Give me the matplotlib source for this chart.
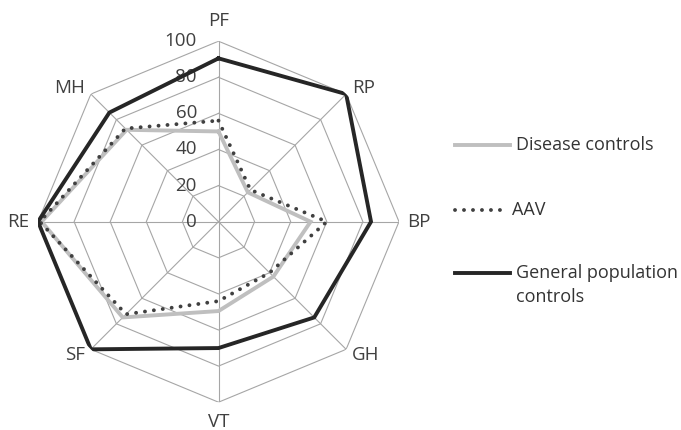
import numpy as np
import matplotlib
matplotlib.use("Agg")
import matplotlib.pyplot as plt
from matplotlib.lines import Line2D

plt.rcParams['font.family'] = ['Open Sans', 'DejaVu Sans']

axes_names = ["PF", "RP", "BP", "GH", "VT", "SF", "RE", "MH"]
disease = [50, 23, 51, 43, 49.5, 75, 98, 72]
aav = [56, 25, 60, 40, 44, 72.5, 99, 73]
general = [90.5, 100, 84.5, 75, 70, 100, 100, 85.5]
rings = [20, 40, 60, 80, 100]
ring_labels = ["0", "20", "40", "60", "80", "100"]
series_names = ["Disease controls", "AAV", "General population\ncontrols"]

n = len(axes_names)
theta = np.arange(n) * 2 * np.pi / n
theta_c = np.append(theta, theta[0])

def closed(v):
    return np.append(v, v[0])

W, H = 681, 430
fig = plt.figure(figsize=(W / 100, H / 100), dpi=100)
cx, cy, R = 218.5, 221.7, 180.5
ax = fig.add_axes([(cx - R) / W, (H - cy - R) / H, 2 * R / W, 2 * R / H], projection='polar')
ax.set_theta_zero_location('N')
ax.set_theta_direction(-1)
ax.set_ylim(0, 100)
ax.grid(False)
ax.spines['polar'].set_visible(False)
ax.set_xticks([])
ax.set_yticks([])
ax.patch.set_alpha(0)

grid_col = '#a6a6a6'
txt_col = '#404040'
for r in rings:
    ax.plot(theta_c, [r] * (n + 1), color=grid_col, lw=0.8, zorder=1)
for t in theta:
    ax.plot([t, t], [0, 100], color=grid_col, lw=0.8, zorder=1)

# value labels along the PF spoke
for i, lab in enumerate(ring_labels):
    ax.annotate(lab, xy=(0, i * 20), xytext=(-15.5, 0), textcoords='offset points',
                ha='right', va='center', fontsize=13.5, color=txt_col,
                annotation_clip=False, zorder=2)

# category labels outside the vertices
for t, name in zip(theta, axes_names):
    s, c = np.sin(t), np.cos(t)
    if abs(s) < 0.01:
        ha, d = 'center', 14.5
    else:
        ha, d = ('left' if s > 0 else 'right'), 6
    ax.annotate(name, xy=(t, 100), xytext=(d * s, d * c), textcoords='offset points',
                ha=ha, va='center', fontsize=13.5, color=txt_col, annotation_clip=False)

styles = [
    dict(color='#bfbfbf', lw=2.8, solid_joinstyle='miter'),
    dict(color='#404040', lw=2.8, linestyle=(0, (0.01, 2.3)), dash_capstyle='round'),
    dict(color='#262626', lw=2.8, solid_joinstyle='miter'),
]
for k, vals in enumerate([disease, aav, general]):
    ax.plot(theta_c, closed(vals), zorder=3 + k, **styles[k])

# legend drawn by hand so the handle sits on the first text line
leg_y = [145, 210, 273]
for k, name in enumerate(series_names):
    y = 1 - leg_y[k] / H
    x1 = 503 if k == 1 else 510
    fig.add_artist(Line2D([455 / W, x1 / W], [y, y], transform=fig.transFigure, **styles[k]))
    lines = name.split('\n')
    tx = 512 if k == 1 else 516
    for j, part in enumerate(lines):
        fig.text(tx / W, 1 - (leg_y[k] + 24 * j) / H, part, ha='left', va='center',
                 fontsize=13, color='#333333')

fig.savefig('out.png', dpi=100)
